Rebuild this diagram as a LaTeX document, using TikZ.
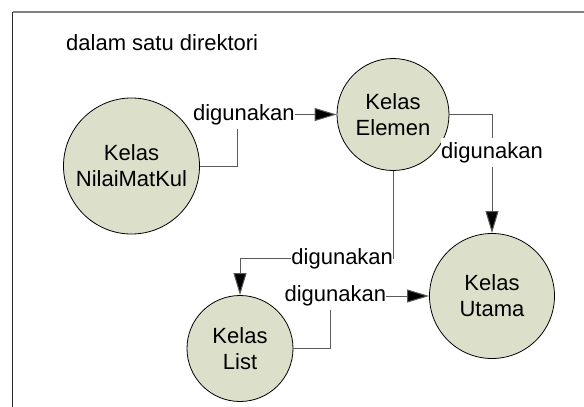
\documentclass[tikz,border=0pt]{standalone}
\usepackage{fontspec}
\setmainfont{Liberation Sans}
\usepackage{tikz}
\usetikzlibrary{arrows.meta}
\definecolor{kelasfill}{HTML}{DCE0CB}
\definecolor{linegray}{HTML}{5A5A5A}
\tikzset{
  kelas/.style={circle, draw=black, line width=0.8pt, fill=kelasfill, inner sep=0pt, align=center, font=\fontsize{22}{26}\selectfont},
  conn/.style={draw=linegray, line width=1pt, -{Triangle[length=22pt,width=13pt,fill=black]}},
  lbl/.style={fill=white, inner xsep=0pt, inner ysep=4pt, font=\fontsize{22}{26}\selectfont}
}

\begin{document}
\begin{tikzpicture}[x=1pt,y=-1pt]
\useasboundingbox (0,0) rectangle (584,407);
\draw[gray, line width=1.5pt] (12.7,12) -- (584,12);
\draw[black!85, line width=1.2pt] (12.7,407) -- (12.7,12);
\node[anchor=base west, inner sep=0pt, font=\fontsize{22}{26}\selectfont] (judul) at (66,50.5) {dalam satu direktori};
\node[kelas, minimum size=136pt] (nilai) at (131.5,166) {Kelas\\NilaiMatKul};
\node[kelas, minimum size=112pt] (elemen) at (393,114.5) {Kelas\\Elemen};
\node[kelas, minimum size=125pt] (utama) at (492,296) {Kelas\\Utama};
\node[kelas, minimum size=106pt] (list) at (240,348.5) {Kelas\\List};
\draw[conn] (nilai.east) -- ++(38,0) |- (elemen.west) node[lbl, pos=0.53] {digunakan};
\draw[conn] (elemen.east) -| (utama.north) node[lbl, pos=0.66] {digunakan};
\draw[conn] (elemen.south) -- ++(0,88) -| (list.north) node[lbl, pos=0.166] {digunakan};
\draw[conn] (list.east) -- ++(37,0) |- (utama.west) node[lbl, pos=0.525] {digunakan};
\end{tikzpicture}
\end{document}
